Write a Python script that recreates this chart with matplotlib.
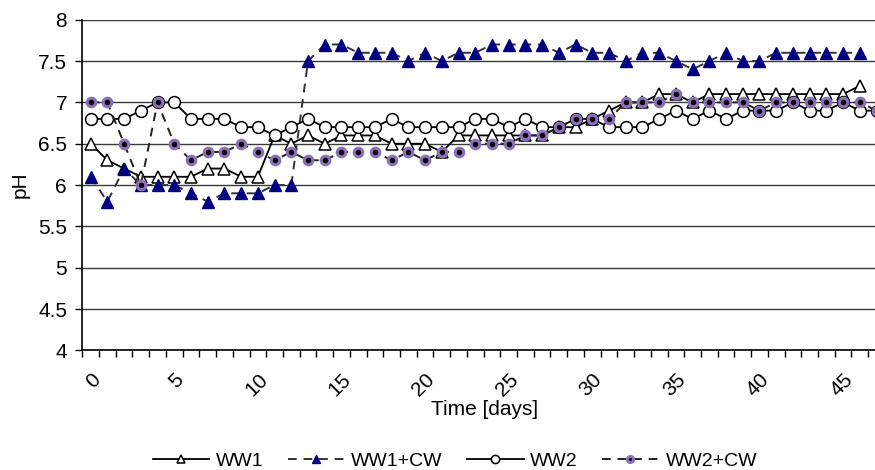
import numpy as np
import matplotlib
matplotlib.use("Agg")
import matplotlib.pyplot as plt
from matplotlib.ticker import FixedLocator

plt.rcParams['font.family'] = ['Liberation Sans', 'DejaVu Sans']

days = list(range(48))
nan = np.nan
ww1 = [6.5, 6.3, 6.2, 6.1, 6.1, 6.1, 6.1, 6.2, 6.2, 6.1, 6.1, 6.6, 6.5, 6.6, 6.5, 6.6,
       6.6, 6.6, 6.5, 6.5, 6.5, 6.4, 6.6, 6.6, 6.6, 6.6, 6.6, 6.6, 6.7, 6.7, 6.8, 6.9,
       7.0, 7.0, 7.1, 7.1, 7.0, 7.1, 7.1, 7.1, 7.1, 7.1, 7.1, 7.1, 7.1, 7.1, 7.2, nan]
ww1_cw = [6.1, 5.8, 6.2, 6.0, 6.0, 6.0, 5.9, 5.8, 5.9, 5.9, 5.9, 6.0, 6.0, 7.5, 7.7, 7.7,
          7.6, 7.6, 7.6, 7.5, 7.6, 7.5, 7.6, 7.6, 7.7, 7.7, 7.7, 7.7, 7.6, 7.7, 7.6, 7.6,
          7.5, 7.6, 7.6, 7.5, 7.4, 7.5, 7.6, 7.5, 7.5, 7.6, 7.6, 7.6, 7.6, 7.6, 7.6, nan]
ww2 = [6.8, 6.8, 6.8, 6.9, 7.0, 7.0, 6.8, 6.8, 6.8, 6.7, 6.7, 6.6, 6.7, 6.8, 6.7, 6.7,
       6.7, 6.7, 6.8, 6.7, 6.7, 6.7, 6.7, 6.8, 6.8, 6.7, 6.8, 6.7, 6.7, 6.8, 6.8, 6.7,
       6.7, 6.7, 6.8, 6.9, 6.8, 6.9, 6.8, 6.9, 6.9, 6.9, 7.0, 6.9, 6.9, 7.0, 6.9, 6.9]
ww2_cw = [7.0, 7.0, 6.5, 6.0, 7.0, 6.5, 6.3, 6.4, 6.4, 6.5, 6.4, 6.3, 6.4, 6.3, 6.3, 6.4,
          6.4, 6.4, 6.3, 6.4, 6.3, 6.4, 6.4, 6.5, 6.5, 6.5, 6.6, 6.6, 6.7, 6.8, 6.8, 6.8,
          7.0, 7.0, 7.0, 7.1, 7.0, 7.0, 7.0, 7.0, 6.9, 7.0, 7.0, 7.0, 7.0, 7.0, 7.0, 6.9]

series_names = ['WW1', 'WW1+CW', 'WW2', 'WW2+CW']
x_ticks = list(range(0, 50, 5))
y_ticks = [4, 4.5, 5, 5.5, 6, 6.5, 7, 7.5, 8]
y_tick_labels = ['4', '4.5', '5', '5.5', '6', '6.5', '7', '7.5', '8']

W, H = 875, 470
fig = plt.figure(figsize=(W / 100, H / 100), dpi=100)
left_px, right_px, top_px, bot_px = 82.3, 884.9, 19.7, 350.4
ax = fig.add_axes([left_px / W, 1 - bot_px / H, (right_px - left_px) / W, (bot_px - top_px) / H])

dash = (0, (4.5, 3.5))
purple = '#8c70bb'
navy = '#000080'

ax.plot(days, ww1, color='black', lw=1.3, marker='^', ms=8, mfc='white', mec='black',
        mew=1.1, label=series_names[0], zorder=3)
ax.plot(days, ww1_cw, color='#333333', lw=1.4, ls=dash, marker='^', ms=8, mfc=navy,
        mec=navy, mew=1.0, label=series_names[1], zorder=4)
ax.plot(days, ww2, color='black', lw=1.3, marker='o', ms=8.5, mfc='white', mec='black',
        mew=1.1, label=series_names[2], zorder=5)
ax.plot(days, ww2_cw, color='#222222', lw=1.4, ls=dash, marker='o', ms=6.2, mfc='black',
        mec=purple, mew=2.2, label=series_names[3], zorder=6)

ax.set_xlim(-0.5, 47.5)
ax.set_ylim(4, 8)

ax.set_yticks(y_ticks)
ax.set_yticklabels(y_tick_labels)
ax.yaxis.grid(True, color='#3a3a3a', lw=1.0)
ax.set_axisbelow(True)

ax.xaxis.set_major_locator(FixedLocator(x_ticks))
ax.set_xticklabels([str(t) for t in x_ticks], rotation=45, ha='right',
                   rotation_mode='anchor')
ax.xaxis.set_minor_locator(FixedLocator(np.arange(-0.5, 48, 1.0)))
ax.tick_params(axis='x', which='major', length=0, pad=14, labelsize=15)
ax.tick_params(axis='x', which='minor', length=5, width=1.0, direction='out')
ax.tick_params(axis='y', which='major', length=5, width=1.0, direction='out',
               labelsize=15, pad=6)

for s in ['top', 'right']:
    ax.spines[s].set_visible(False)
ax.spines['left'].set_linewidth(1.2)
ax.spines['bottom'].set_linewidth(1.2)

ax.set_xlabel('Time [days]', fontsize=15)
ax.xaxis.set_label_coords((485 - left_px) / (right_px - left_px), -0.15)
ax.set_ylabel('pH', fontsize=15)
ax.yaxis.set_label_coords(-0.066, 0.5)

handles, labels = ax.get_legend_handles_labels()
leg = fig.legend(handles, labels, loc='center', bbox_to_anchor=(455 / W, 1 - 461 / H),
                 ncol=4, frameon=False, fontsize=14, handlelength=2.9,
                 handletextpad=0.35, columnspacing=1.25, markerscale=0.7)

fig.savefig('out.png', dpi=100)
